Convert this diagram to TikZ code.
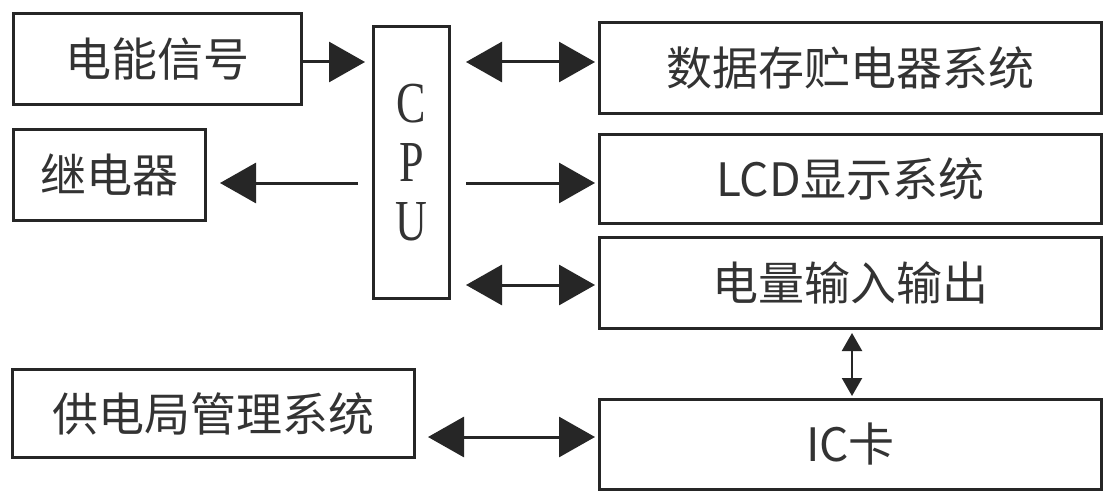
\documentclass[tikz,border=0pt]{standalone}
\usepackage{fontspec}
\newfontfamily\cjk{Noto Sans CJK SC}
\newfontfamily\cpufont{Liberation Serif}
\usetikzlibrary{arrows.meta}
\tikzset{
  box/.style={draw=black!85, line width=3pt, inner sep=0pt, anchor=north west,
    font=\cjk\fontsize{46}{46}\selectfont, text=black!80},
  arr/.style={line width=3pt, draw=black!85, -{Triangle[length=36pt,width=40pt]}},
  darr/.style={line width=3pt, draw=black!85, {Triangle[length=36pt,width=40pt]}-{Triangle[length=36pt,width=40pt]}},
  sarr/.style={line width=2.2pt, draw=black!85, {Triangle[length=18pt,width=20pt]}-{Triangle[length=18pt,width=20pt]}}
}
\begin{document}
\begin{tikzpicture}[x=1pt,y=-1pt]
\fill[white] (0,0) rectangle (1105,492);
\useasboundingbox (0,0) rectangle (1105,492);
% boxes
\node[box, minimum width=288pt, minimum height=91pt] (sig) at (12,12) {电能信号};
\node[box, minimum width=192pt, minimum height=91pt] (relay) at (12,128) {继电器};
\node[box, minimum width=76pt, minimum height=272pt, align=center,
      font=\cpufont\fontsize{58}{59}\selectfont] (cpu) at (372,25)
      {\scalebox{0.76}[1]{C}\\\scalebox{0.76}[1]{P}\\\scalebox{0.76}[1]{U}};
\node[box, minimum width=502pt, minimum height=91pt] (data) at (598,21) {数据存贮电器系统};
\node[box, minimum width=502pt, minimum height=89pt] (lcd) at (598,133) {LCD显示系统};
\node[box, minimum width=502pt, minimum height=91pt] (elec) at (598,236) {电量输入输出};
\node[box, minimum width=402pt, minimum height=88pt] (supply) at (11,368) {供电局管理系统};
\node[box, minimum width=502pt, minimum height=90pt] (ic) at (598,398) {IC卡};
% connectors
\draw[arr, shorten >=7pt] (sig.east |- 0,62) -- (cpu.west |- 0,62);
\draw[arr, shorten <=14pt, shorten >=13pt] (cpu.west |- 0,183) -- (relay.east |- 0,183);
\draw[darr, shorten <=15pt, shorten >=3pt] (cpu.east |- 0,62) -- (data.west |- 0,62);
\draw[arr, shorten <=15pt, shorten >=3pt] (cpu.east |- 0,183) -- (lcd.west |- 0,183);
\draw[darr, shorten <=15pt, shorten >=3pt] (cpu.east |- 0,285) -- (elec.west |- 0,285);
\draw[sarr, shorten <=3pt, shorten >=2pt] (elec.south -| 852,0) -- (ic.north -| 852,0);
\draw[darr, shorten <=12pt, shorten >=3pt] (supply.east |- 0,437) -- (ic.west |- 0,437);
\end{tikzpicture}
\end{document}
